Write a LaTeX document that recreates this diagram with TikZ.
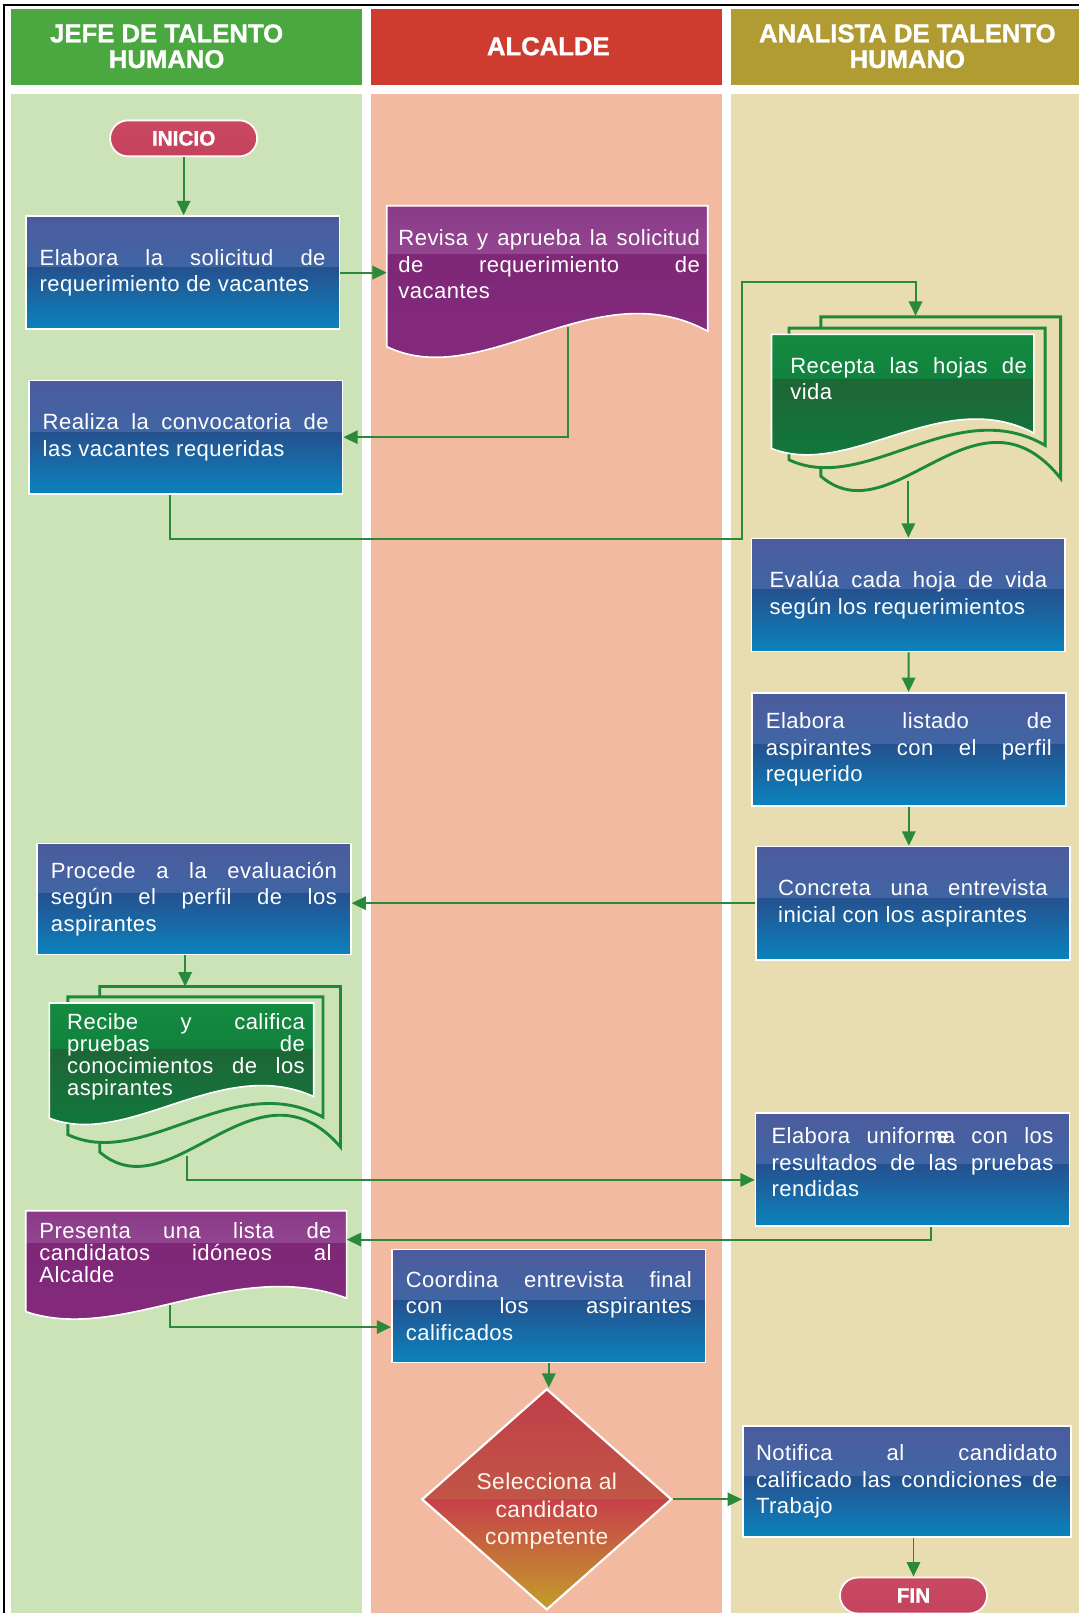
\documentclass[tikz,border=0pt]{standalone}
\usepackage{fontspec}
\usepackage{tikz}
\usetikzlibrary{arrows.meta,shapes.geometric}

\newfontfamily\cajafont{Liberation Sans}[LetterSpace=2]
\newfontfamily\titulofont{Liberation Sans}[FakeBold=1.2]

\definecolor{carrilverde}{HTML}{4BA73F}
\definecolor{fondoverde}{HTML}{CCE2B7}
\definecolor{carrilrojo}{HTML}{CD3C2E}
\definecolor{fondorojo}{HTML}{F1BAA1}
\definecolor{carrilocre}{HTML}{B19B33}
\definecolor{fondoocre}{HTML}{E8DDB1}
\definecolor{linea}{HTML}{2B8A3A}
\definecolor{azulA}{HTML}{4C5B9D}
\definecolor{azulB}{HTML}{3172AD}
\definecolor{azulC}{HTML}{25518F}
\definecolor{azulD}{HTML}{0A83BD}
\definecolor{moradoA}{HTML}{8A3A88}
\definecolor{moradoB}{HTML}{934690}
\definecolor{moradoC}{HTML}{7E2877}
\definecolor{moradoD}{HTML}{84297D}
\definecolor{verdeA}{HTML}{148B41}
\definecolor{verdeB}{HTML}{11823E}
\definecolor{verdeC}{HTML}{1E6636}
\definecolor{verdeD}{HTML}{0E7B3D}
\definecolor{copia}{HTML}{1D8A3A}
\definecolor{rosaA}{HTML}{C94862}
\definecolor{rosaC}{HTML}{B4304D}
\definecolor{rosaD}{HTML}{C4425D}
\definecolor{rombA}{HTML}{C03E4A}
\definecolor{rombB}{HTML}{C26E40}
\definecolor{rombC}{HTML}{C7404A}
\definecolor{rombD}{HTML}{C39E2A}

\hyphenpenalty=10000
\exhyphenpenalty=10000
\tolerance=10000
\hbadness=10000

% hoja con borde ondulado: x0, x1, arriba, y izq., y der., control 1, control 2
\newcommand{\hoja}[7]{(#1,#3) -- (#2,#3) -- (#2,#5)
  .. controls ({#1+0.65*(#2-#1)},{#4+#7}) and ({#1+0.3*(#2-#1)},{#4+#6}) .. (#1,#4) -- cycle}

\begin{document}
\begin{tikzpicture}[x=0.02cm, y=-0.02cm,
  titulo/.style={text=white, align=center,
    font=\titulofont\bfseries\fontsize{14.2}{14.2}\selectfont},
  proceso/.style={rectangle, draw=white, line width=0.9pt,
    minimum width=6.1cm, minimum height=2.2cm, text width=5.56cm,
    align=justify, text=white, font=\cajafont\fontsize{12.2}{14.7}\selectfont,
    path picture={
      \shade[top color=azulA, bottom color=azulB] (path picture bounding box.north west) rectangle ([yshift=0.1cm]path picture bounding box.east);
      \shade[top color=azulC, bottom color=azulD] ([yshift=0.1cm]path picture bounding box.west) rectangle (path picture bounding box.south east);
    }},
  hojatexto/.style={anchor=north west, inner ysep=0pt, align=justify,
    text=white, font=\cajafont\fontsize{12.2}{14.7}\selectfont},
  copiahoja/.style={draw=copia, line width=1.6pt},
  terminal/.style={rectangle, rounded corners=0.35cm, minimum width=2.86cm,
    minimum height=0.7cm, draw=white!90!pink, line width=1pt, text=white,
    top color=rosaA, middle color=rosaC, bottom color=rosaD,
    font=\titulofont\bfseries\fontsize{11.5}{12}\selectfont},
  decision/.style={diamond, minimum width=4.86cm, minimum height=4.3cm,
    inner sep=0pt, draw=white, line width=1.2pt,
    path picture={
      \shade[top color=rombA, bottom color=rombB] (path picture bounding box.north west) rectangle (path picture bounding box.east);
      \shade[top color=rombC, bottom color=rombD] (path picture bounding box.west) rectangle (path picture bounding box.south east);
    }},
  flecha/.style={draw=linea, line width=1.1pt, -{Triangle[length=0.28cm,width=0.26cm]}}]

\useasboundingbox (0,0) rectangle (1048,1568);

% carriles
\fill[carrilverde] (11,9) rectangle (352,83);
\fill[carrilrojo] (361,9) rectangle (702,83);
\fill[carrilocre] (711,9) rectangle (1053,83);
\fill[fondoverde] (11,91) rectangle (352,1600);
\fill[fondorojo] (361,91) rectangle (702,1600);
\fill[fondoocre] (711,91) rectangle (1053,1600);
\draw[line width=0.8pt] (4,5) rectangle (1070,1600);

\node (jefe) [titulo] at (162,45) {JEFE DE TALENTO\\HUMANO};
\node (alcalde) [titulo] at (533,45) {ALCALDE};
\node (analista) [titulo] at (882,45) {ANALISTA DE TALENTO\\HUMANO};

% jefe de talento humano
\node (inicio) [terminal] at (178.5,134.5) {INICIO};
\node (elabora) [proceso] at (177.5,265) {Elabora la solicitud de\linebreak requerimiento de vacantes};
\node (convoca) [proceso] at (180.5,425) {Realiza la convocatoria de\linebreak las vacantes requeridas};
\node (procede) [proceso, minimum height=2.16cm] at (188.5,874) {Procede a la evaluación\linebreak según el perfil de los\linebreak aspirantes};

\path[copiahoja, fill=fondoverde] \hoja{97}{331}{959}{1120}{1115}{60}{-100};
\path[copiahoja, fill=fondoverde] \hoja{66}{314}{969}{1103}{1086}{35}{-65};
\begin{scope}
  \clip \hoja{48}{305}{975}{1087}{1066}{30}{-62};
  \shade[top color=verdeA, bottom color=verdeB] (48,975) rectangle (305,1020);
  \shade[top color=verdeC, bottom color=verdeD] (48,1020) rectangle (305,1110);
\end{scope}
\draw[white, line width=0.9pt] \hoja{48}{305}{975}{1087}{1066}{30}{-62};
\node (recibe) [hojatexto, inner xsep=0.34cm, text width=4.62cm, font=\cajafont\fontsize{12.2}{12.2}\selectfont]
  at (48,985) {Recibe y califica\linebreak pruebas de\linebreak conocimientos de los\linebreak aspirantes};
\coordinate (recibe-in) at (180,959);
\coordinate (recibe-sal) at (182,1124);

\begin{scope}
  \clip \hoja{25}{337}{1177}{1275}{1262}{32}{-54};
  \shade[top color=moradoA, bottom color=moradoB] (25,1177) rectangle (337,1209);
  \shade[top color=moradoC, bottom color=moradoD] (25,1209) rectangle (337,1290);
\end{scope}
\draw[white, line width=0.9pt] \hoja{25}{337}{1177}{1275}{1262}{32}{-54};
\node (presenta) [hojatexto, inner xsep=0.26cm, text width=5.68cm, font=\cajafont\fontsize{12.2}{12.2}\selectfont]
  at (25,1188) {Presenta una lista de\linebreak candidatos idóneos al\linebreak Alcalde};
\coordinate (presenta-in) at (337,1205);
\coordinate (presenta-sal) at (165,1269);

% alcalde
\begin{scope}
  \clip \hoja{376}{688}{200}{337}{322}{45}{-75};
  \shade[top color=moradoA, bottom color=moradoB] (376,200) rectangle (688,247);
  \shade[top color=moradoC, bottom color=moradoD] (376,247) rectangle (688,360);
\end{scope}
\draw[white, line width=0.9pt] \hoja{376}{688}{200}{337}{322}{45}{-75};
\node (revisa) [hojatexto, inner xsep=0.22cm, text width=5.86cm]
  at (376,223) {Revisa y aprueba la solicitud\linebreak de requerimiento de\linebreak vacantes};
\coordinate (revisa-sal) at (552,318);

\node (coordina) [proceso] at (533.5,1269.5) {Coordina entrevista final\linebreak con los aspirantes\linebreak calificados};
\node (selecciona) [decision] at (531.5,1457.5) {};
\node (selecciona-txt) [text=white!92!orange, align=center, font=\cajafont\fontsize{12.6}{15}\selectfont]
  at (531.5,1469) {Selecciona al\\candidato\\competente};

% analista de talento humano
\path[copiahoja, fill=fondoocre] \hoja{798}{1031}{308}{463}{465}{60}{-100};
\path[copiahoja, fill=fondoocre] \hoja{767}{1016}{319}{447}{433}{35}{-65};
\begin{scope}
  \clip \hoja{750}{1005}{325}{436}{421}{30}{-62};
  \shade[top color=verdeA, bottom color=verdeB] (750,325) rectangle (1005,369);
  \shade[top color=verdeC, bottom color=verdeD] (750,369) rectangle (1005,460);
\end{scope}
\draw[white, line width=0.9pt] \hoja{750}{1005}{325}{436}{421}{30}{-62};
\node (recepta) [hojatexto, inner xsep=0.36cm, text width=4.6cm]
  at (750,347) {Recepta las hojas de\linebreak vida};
\coordinate (recepta-in) at (890,307);
\coordinate (recepta-sal) at (883,468);
\coordinate (paso1) at (721,524);
\coordinate (paso2) at (721,274);

\node (evalua) [proceso, text width=5.4cm] at (883,578.5) {Evalúa cada hoja de vida\linebreak según los requerimientos};
\node (listado) [proceso] at (883.5,728.5) {Elabora listado de\linebreak aspirantes con el perfil\linebreak requerido};
\node (concreta) [proceso, text width=5.24cm] at (887.5,878) {Concreta una entrevista\linebreak inicial con los aspirantes};
\node (uniforme) [proceso, text width=5.48cm] at (887,1137) {Elabora uniform\makebox[0pt]{\bfseries e}a con los\linebreak resultados de las pruebas\linebreak rendidas\par\vspace*{0.28cm}};
\node (notifica) [proceso, minimum width=6.38cm, minimum height=2.16cm, text width=5.86cm] at (881.5,1440) {Notifica al candidato\linebreak calificado las condiciones de\linebreak Trabajo};
\node (fin) [terminal] at (888,1551) {FIN};

% conectores
\draw[flecha] (inicio) -- (inicio |- elabora.north);
\draw[flecha] (elabora.east) -- (elabora.east -| revisa.west);
\draw[flecha] (revisa-sal) |- (convoca.east);
\draw[flecha] ([xshift=-0.31cm]convoca.south) |- (paso1) -- (paso2) -| (recepta-in);
\draw[flecha] (recepta-sal) -- (recepta-sal |- evalua.north);
\draw[flecha] (evalua) -- (listado);
\draw[flecha] (listado.south) -- (listado.south |- concreta.north);
\draw[flecha] (concreta.west) -- (concreta.west -| procede.east);
\draw[flecha] (recibe-in |- procede.south) -- (recibe-in);
\draw[flecha] (recibe-sal) |- ([yshift=-0.2cm]uniforme.west);
\draw[flecha] ([xshift=0.36cm]uniforme.south) |- (presenta-in);
\draw[flecha] (presenta-sal) |- ([yshift=-0.41cm]coordina.west);
\draw[flecha] (coordina.south) -- (coordina.south |- selecciona.north);
\draw[flecha] (selecciona.east) -- (selecciona.east -| notifica.west);
\draw[flecha] (fin.north |- notifica.south) -- (fin.north);
\end{tikzpicture}
\end{document}
